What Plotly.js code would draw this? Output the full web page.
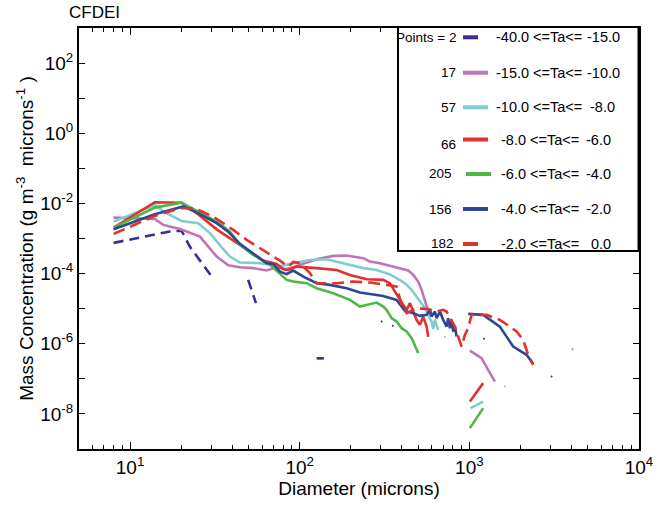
<!DOCTYPE html>
<html>
<head>
<meta charset="utf-8">
<script src="https://cdn.plot.ly/plotly-3.0.1.min.js"></script>
<style>html,body{margin:0;padding:0;background:#fff}#chart{width:666px;height:510px}</style>
</head>
<body>
<div id="chart"></div>
<script>
// ---------------- data (diameter in microns, mass concentration in g m^-3 micron^-1) ----------------
const seriesNames = ['-40.0 <=Ta<= -15.0', '-15.0 <=Ta<= -10.0', '-10.0 <=Ta<= -8.0', '-8.0 <=Ta<= -6.0',
                     '-6.0 <=Ta<= -4.0', '-4.0 <=Ta<= -2.0', '-2.0 <=Ta<= 0.0'];
const legendCounts = ['Points = 2', '17', '57', '66', '205', '156', '182'];
const legendLeft = ['-40.0 <=Ta<=', '-15.0 <=Ta<=', '-10.0 <=Ta<=', '-8.0 <=Ta<=', '-6.0 <=Ta<=', '-4.0 <=Ta<=', '-2.0 <=Ta<='];
const legendRight = ['-15.0', '-10.0', '-8.0', '-6.0', '-4.0', '-2.0', '0.0'];

const dA = [8.0, 17.2, 20.1, 22.5, 30.3, null, 49.7, 55.2, null, 125.8, 138.9];
const cA = [7.5e-4, 1.59e-3, 1.68e-3, 5.87e-4, 8.2e-5, null, 6.61e-5, 1.44e-5, null, 3.84e-7, 3.84e-7];

const dB = [8.0, 14.0, 15.7, 19.7, 25.8, 32.4, 37.9, 44.4, 53.2, 63.8, 73.1, 83.7, 100.3, 125.8, 157.6, 189.1,
            236.8, 259.4, 297, 340.2, 380.8, 436.1, 466.7, 499.5, 523, 547, 559.8, 585.4, null, 1007, 1180, 1274, 1414];
const cB = [3.94e-3, 3.61e-3, 2.44e-3, 1.87e-3, 1.13e-3, 3.05e-4, 1.73e-4, 1.52e-4, 1.43e-4, 1.23e-4, 1.52e-4, 1.33e-4,
            1.77e-4, 2.57e-4, 3.19e-4, 3.26e-4, 2.75e-4, 2.20e-4, 1.98e-4, 1.66e-4, 1.43e-4, 1.22e-4, 9.18e-5, 5.92e-5,
            3.44e-5, 1.78e-5, 1.15e-5, 5.96e-6, null, 6.40e-7, 3.89e-7, 2.02e-7, 8.38e-8];

const dC = [8.0, 14.0, 16.4, 20.1, 25.2, 29.6, 35.4, 38.8, 44.4, 58.3, 76.5, 95.9, 114.9, 144.1, 189.1, 236.8, 284.1,
            340.2, 372.5, 417, 456.7, 488.7, 523, 547, 572.1, 599, 612.2, 626.4, 655.3, null, 1016, 1206];
const cC = [3.03e-3, 9.06e-3, 5.26e-3, 3.17e-3, 2.73e-3, 1.42e-3, 4.95e-4, 3.05e-4, 2.06e-4, 1.98e-4, 1.63e-4, 2.06e-4,
            2.45e-4, 2.57e-4, 1.89e-4, 1.43e-4, 1.27e-4, 9.48e-5, 7.40e-5, 5.32e-5, 3.44e-5, 2.21e-5, 1.44e-5, 1.03e-5,
            6.65e-6, 4.21e-6, 2.66e-6, 4.80e-6, 2.49e-6, null, 1.46e-8, 2.25e-8];

const dD = [8.0, 14.0, 20.1, 25.5, 32.4, 44.4, 53.2, 61.0, 73.1, 80.0, 85.6, 95.9, 125.8, 165.1, 197.7, 248, 310.6,
            340.2, 364, 389.6, 407.5, 426.7, 446.3, 466.7, 488.7, 511.1, 534.5, 559.8, 572.1, null, 1007, 1206];
const cD = [2.05e-3, 1.08e-2, 1.05e-2, 4.70e-3, 1.82e-3, 6.58e-4, 3.81e-4, 2.34e-4, 1.89e-4, 1.33e-4, 1.27e-4, 1.58e-4,
            1.43e-4, 1.27e-4, 9.18e-5, 6.92e-5, 6.61e-5, 5.32e-5, 3.07e-5, 1.78e-5, 1.28e-5, 9.25e-6, 1.44e-5, 8.26e-6,
            4.80e-6, 3.45e-6, 5.96e-6, 3.09e-6, 1.57e-6, null, 2.25e-8, 7.55e-8];

const dE = [8.0, 14.0, 20.1, 24.1, 32.4, 38.8, 44.4, 53.2, 66.8, 83.7, 91.6, 109.9, 125.8, 157.6, 197.7, 226.4, 284.1,
            310.6, 325.3, 348.1, 372.5, 398.8, 426.7, 456.7, 488.7, 499.5, null, 1007, 1206];
const cE = [2.05e-3, 7.59e-3, 1.05e-2, 6.53e-3, 3.03e-3, 1.57e-3, 6.58e-4, 3.41e-4, 1.77e-4, 6.61e-5, 5.92e-5, 5.32e-5,
            3.84e-5, 2.76e-5, 1.78e-5, 1.15e-5, 1.49e-5, 1.15e-5, 9.25e-6, 5.36e-6, 4.29e-6, 2.78e-6, 2.23e-6, 1.45e-6,
            6.70e-7, 5.40e-7, null, 3.94e-9, 1.46e-8];

const dF = [8.0, 14.0, 20.6, 24.8, 32.4, 37.9, 44.4, 55.8, 63.8, 69.8, 76.5, 83.7, 91.6, 105, 125.8, 150.7, 189.1, 226.4,
            271.3, 310.6, 372.5, 398.8, 417, 466.7, 511.1, 559.8, 585.4, 599, 626.4, 641.2, 670.5, 701.3, 734.3, 750.4,
            767.8, 785.7, 802.9, 821.6, 840.9, null, 984, 1206, 1513, 1813, 2174, 2378];
const cF = [1.84e-3, 4.92e-3, 8.22e-3, 5.47e-3, 2.73e-3, 1.57e-3, 7.02e-4, 3.05e-4, 1.98e-4, 1.89e-4, 1.14e-4, 9.62e-5,
            1.22e-4, 8.20e-5, 5.32e-5, 4.76e-5, 3.84e-5, 2.88e-5, 2.47e-5, 2.31e-5, 1.78e-5, 1.15e-5, 8.65e-6, 7.45e-6,
            6.24e-6, 6.65e-6, 9.25e-6, 5.96e-6, 8.26e-6, 5.36e-6, 8.26e-6, 4.80e-6, 3.09e-6, 5.36e-6, 2.78e-6, 4.80e-6,
            2.23e-6, 3.09e-6, 1.60e-6, null, 7.11e-6, 6.65e-6, 3.09e-6, 8.32e-7, 4.83e-7, 2.67e-7];

const dG = [8.0, 14.0, 19.7, 24.1, 30.9, 40.6, 48.7, 61.0, 76.5, 85.6, 91.6, 100.3, 114.9, 125.8, 165.1, 206.8, 259.4,
            325.3, 372.5, 398.8, 426.7, 488.7, 572.1, 641.2, 701.3, 734.3, 821.6, 899.6, 941, 984, 1030, 1264, 1513,
            1733, 1898, 2076, 2222, 2378];
const cG = [1.35e-3, 4.41e-3, 7.29e-3, 7.29e-3, 4.21e-3, 1.76e-3, 9.12e-4, 4.73e-4, 2.34e-4, 1.58e-4, 2.15e-4, 1.98e-4,
            1.03e-4, 5.32e-5, 5.32e-5, 5.92e-5, 5.55e-5, 4.76e-5, 4.26e-5, 1.28e-5, 7.45e-6, 1.03e-5, 9.68e-6, 8.26e-6,
            9.25e-6, 8.26e-6, 3.09e-6, 8.32e-7, 1.79e-6, 2.78e-6, 6.65e-6, 6.65e-6, 4.80e-6, 3.09e-6, 2.23e-6, 1.29e-6,
            4.83e-7, 2.51e-7];

// isolated single-bin values (series index for colour)
const dotD = [304, 354, 1218, 3052, 4055, 717.6, 1620];
const dotC = [4.29e-6, 3.24e-6, 1.38e-6, 1.16e-7, 7.02e-7, 1.57e-6, 6.04e-8];
const dotSeries = [0, 0, 0, 0, 1, 2, 2];

// ---------------- styling ----------------
const colors = ['#46298f', '#c272b5', '#7fcdcd', '#e2302e', '#4db748', '#2e4695', '#e2302e'];
const dashes = ['10px,6px', 'solid', 'solid', 'solid', 'solid', 'solid', '12px,6px'];
const xs = [dA, dB, dC, dD, dE, dF, dG];
const ys = [cA, cB, cC, cD, cE, cF, cG];
const FONT = 'Liberation Sans, Arial, Helvetica, sans-serif';

const traces = xs.map((x, i) => ({
  type: 'scatter', mode: 'lines', x: x, y: ys[i], name: seriesNames[i],
  line: {color: colors[i], width: 2.6, dash: dashes[i]},
  connectgaps: false, showlegend: false, hoverinfo: 'x+y'
}));
traces.push({
  type: 'scatter', mode: 'markers', x: dotD, y: dotC, showlegend: false,
  marker: {size: 2, color: dotSeries.map(s => colors[s])}
});

// plot area geometry in pixels
const L = 79, R = 639, T = 28, B = 449;
const px = v => (v - L) / (R - L);
const py = v => (B - v) / (B - T);

const rowY = [37.3, 72.7, 107.3, 139.5, 174, 209, 244];
const countY = [37.3, 72.7, 107.3, 144, 173, 209, 244];
const countX = [457.7, 457.7, 457.7, 457.7, 454.3, 454.3, 455.7];
const lineX0 = [463, 463, 463, 463, 466, 463, 463];
const lineX1 = [478, 488, 488, 488, 491, 488, 478];
const labL = [494, 494, 494, 499, 499, 499, 499];
const labR = [622, 622, 617, 613, 613, 613, 613];

const shapes = [{
  type: 'rect', xref: 'paper', yref: 'paper', x0: px(398), x1: px(638.5), y0: py(251), y1: py(27),
  line: {color: '#000', width: 2}, fillcolor: '#fff', layer: 'above'
}];
const annotations = [{
  xref: 'paper', yref: 'paper', x: px(67), y: py(12), xanchor: 'left', yanchor: 'middle',
  text: 'CFDEI', showarrow: false, font: {family: FONT, size: 17, color: '#000'}
}];
const esc = s => s.replace(/</g, '&lt;');
for (let i = 0; i < 7; i++) {
  shapes.push({type: 'line', xref: 'paper', yref: 'paper', x0: px(lineX0[i]), x1: px(lineX1[i]),
    y0: py(rowY[i]), y1: py(rowY[i]), line: {color: colors[i], width: 4}, layer: 'above'});
  annotations.push({xref: 'paper', yref: 'paper', x: px(countX[i]), y: py(countY[i]), xanchor: 'right', yanchor: 'middle',
    text: legendCounts[i], showarrow: false, font: {family: FONT, size: 13.5, color: '#000'}});
  annotations.push({xref: 'paper', yref: 'paper', x: px(labL[i]), y: py(rowY[i]), xanchor: 'left', yanchor: 'middle',
    text: esc(legendLeft[i]), showarrow: false, font: {family: FONT, size: 14.5, color: '#000'}});
  annotations.push({xref: 'paper', yref: 'paper', x: px(labR[i]), y: py(rowY[i]), xanchor: 'right', yanchor: 'middle',
    text: legendRight[i], showarrow: false, font: {family: FONT, size: 14.5, color: '#000'}});
}

const xTickVals = [10, 100, 1000, 10000];
const xTickText = ['10<sup>1</sup>', '10<sup>2</sup>', '10<sup>3</sup>', '10<sup>4</sup>'];
const xMinor = [];
[1, 10, 100, 1000].forEach(b => { for (let k = 2; k <= 9; k++) { if (b * k >= 5) xMinor.push(b * k); } });
const yTickVals = [], yTickText = [], yMinor = [];
for (let p = -8; p <= 2; p++) {
  if (p % 2 === 0) { yTickVals.push(Math.pow(10, p)); yTickText.push('10<sup>' + p + '</sup>'); }
  else yMinor.push(Math.pow(10, p));
}

const layout = {
  width: 666, height: 510, paper_bgcolor: '#fff', plot_bgcolor: '#fff',
  margin: {l: L, r: 666 - R, t: T, b: 510 - B, pad: 0},
  font: {family: FONT, color: '#000'},
  showlegend: false,
  xaxis: {
    type: 'log', range: [Math.log10(5), 4], showgrid: false, zeroline: false,
    showline: true, linecolor: '#000', linewidth: 2, mirror: 'ticks',
    ticks: 'inside', ticklen: 7, tickwidth: 1, tickcolor: '#000',
    tickmode: 'array', tickvals: xTickVals, ticktext: xTickText,
    tickfont: {family: FONT, size: 19, color: '#000'},
    minor: {ticks: 'inside', ticklen: 4, tickwidth: 1, tickcolor: '#000', tickmode: 'array', tickvals: xMinor, showgrid: false},
    title: {text: 'Diameter (microns)', font: {family: FONT, size: 19, color: '#000'}, standoff: 4},
    automargin: false
  },
  yaxis: {
    type: 'log', range: [-9, 3], showgrid: false, zeroline: false,
    showline: true, linecolor: '#000', linewidth: 2, mirror: 'ticks',
    ticks: 'inside', ticklen: 6, tickwidth: 1, tickcolor: '#000',
    tickmode: 'array', tickvals: yTickVals, ticktext: yTickText,
    tickfont: {family: FONT, size: 19, color: '#000'},
    minor: {ticks: 'inside', ticklen: 6, tickwidth: 1, tickcolor: '#000', tickmode: 'array', tickvals: yMinor, showgrid: false},
    title: {text: 'Mass Concentration (g m<sup>-3</sup>&nbsp;&nbsp;microns<sup>-1</sup> )', font: {family: FONT, size: 19, color: '#000'}, standoff: 2},
    automargin: false
  },
  shapes: shapes,
  annotations: annotations
};

Plotly.newPlot('chart', traces, layout, {displayModeBar: false, staticPlot: true});
</script>
</body>
</html>
